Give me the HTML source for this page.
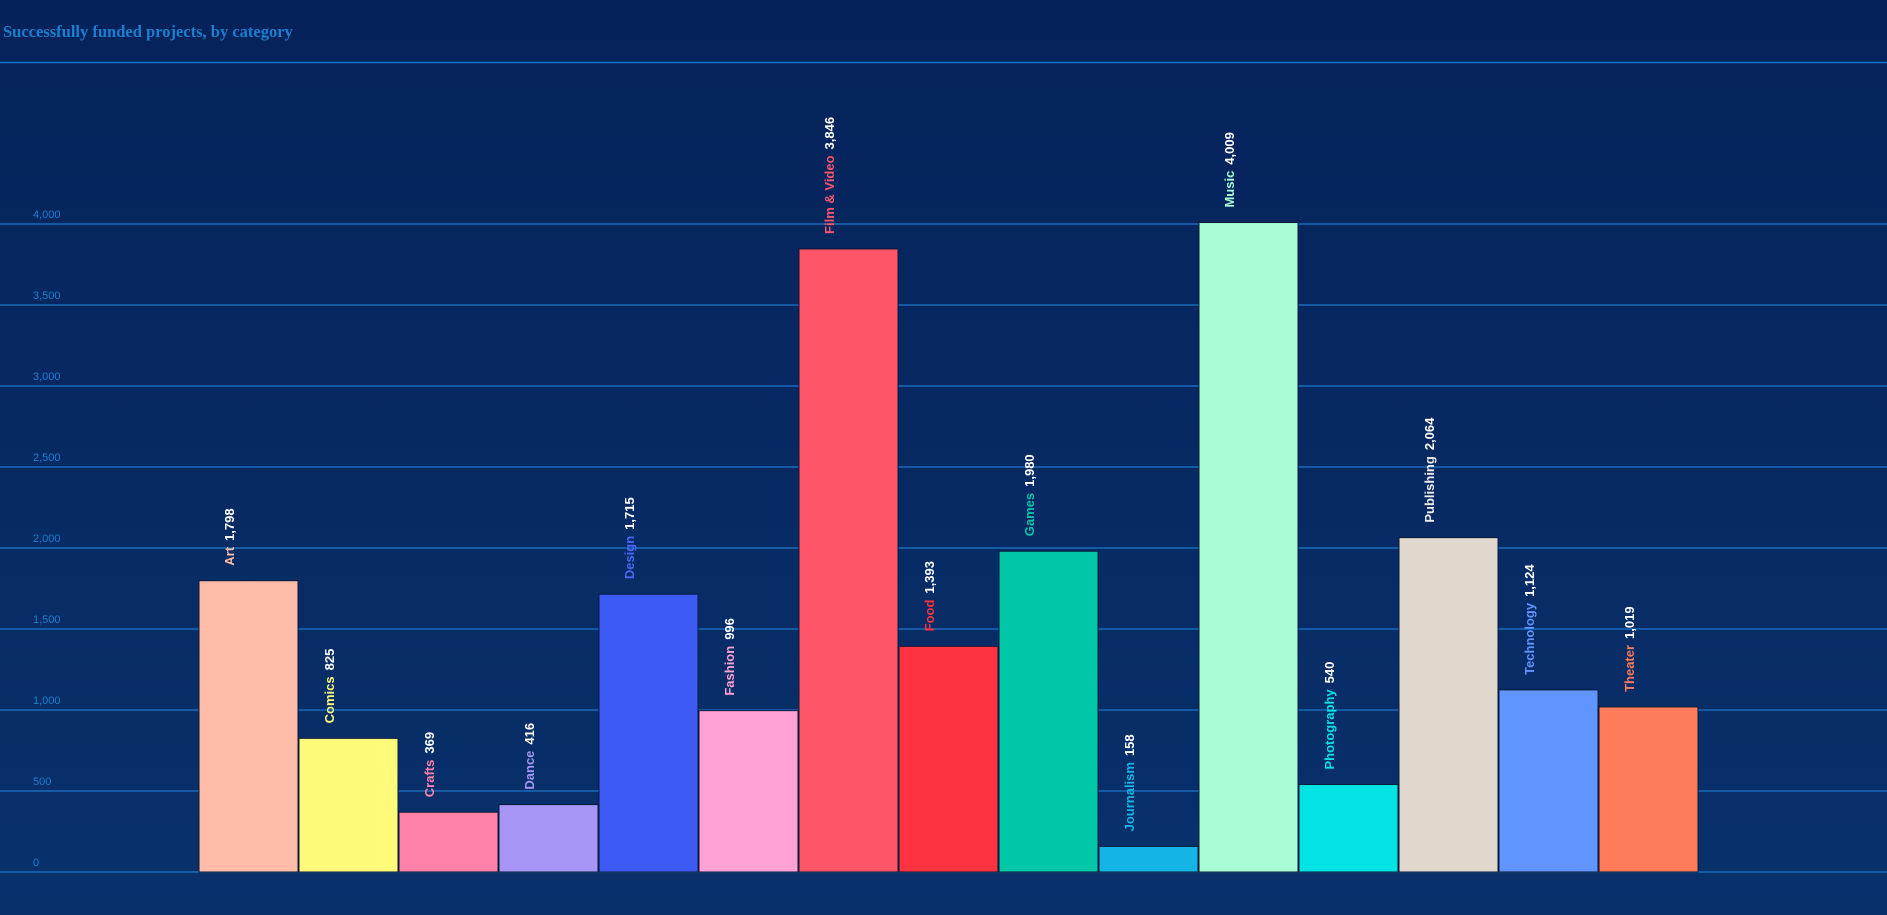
<!DOCTYPE html>
<html><head><meta charset="utf-8"><style>
html,body{margin:0;padding:0;width:1887px;height:915px;overflow:hidden;background:#062359}
</style></head><body>
<svg width="1887" height="915" xmlns="http://www.w3.org/2000/svg">
<defs><linearGradient id="bg" x1="0" y1="0" x2="0" y2="1">
<stop offset="0" stop-color="#06225a"/><stop offset="1" stop-color="#08316c"/></linearGradient></defs>
<rect width="1887" height="915" fill="url(#bg)"/>
<text x="3" y="37" font-family="'Liberation Serif',serif" font-weight="bold" font-size="16.5" fill="#1a7fd0">Successfully funded projects, by category</text>
<line x1="0" y1="62.5" x2="1887" y2="62.5" stroke="#1a72c4" stroke-width="1.5"/>
<g font-family="'Liberation Sans',sans-serif" font-size="11" fill="#1a7fd0" stroke="#1a6ab8" stroke-width="1.5">
<line x1="0" x2="1887" y1="224" y2="224"/><line x1="0" x2="1887" y1="305" y2="305"/><line x1="0" x2="1887" y1="386" y2="386"/><line x1="0" x2="1887" y1="467" y2="467"/><line x1="0" x2="1887" y1="548" y2="548"/><line x1="0" x2="1887" y1="629" y2="629"/><line x1="0" x2="1887" y1="710" y2="710"/><line x1="0" x2="1887" y1="791" y2="791"/><line x1="0" x2="1887" y1="872" y2="872"/>
<g stroke="none">
<text x="33" y="218">4,000</text><text x="33" y="299">3,500</text><text x="33" y="380">3,000</text><text x="33" y="461">2,500</text><text x="33" y="542">2,000</text><text x="33" y="623">1,500</text><text x="33" y="704">1,000</text><text x="33" y="785">500</text><text x="33" y="866">0</text>
</g></g>
<g id="bars" stroke="#0a1a3a" stroke-width="1"></g>
<g id="labels" font-family="'Liberation Sans',sans-serif" font-weight="bold" font-size="13"></g>
<script>
var d=[["Art",1798,"#ffbca8","#ffbca8"],["Comics",825,"#fffa7a","#fffa7a"],["Crafts",369,"#ff82aa","#ff82aa"],["Dance",416,"#a896f7","#a896f7"],["Design",1715,"#3e5af5","#4a66f8"],["Fashion",996,"#ffa1d5","#ffa1d5"],["Film & Video",3846,"#ff5569","#ff5569"],["Food",1393,"#ff3340","#ff3340"],["Games",1980,"#00c7a8","#00c7a8"],["Journalism",158,"#14b5e6","#14b5e6"],["Music",4009,"#a8fdd4","#a8fdd4"],["Photography",540,"#00e3e3","#00e3e3"],["Publishing",2064,"#e0d8cc","#f0ece6"],["Technology",1124,"#6095ff","#6095ff"],["Theater",1019,"#ff7b5a","#ff7b5a"]];
var ns="http://www.w3.org/2000/svg",B=document.getElementById("bars"),L=document.getElementById("labels");
d.forEach(function(r,i){var x=199+i*100,h=r[1]*0.162,top=872-h;
var e=document.createElementNS(ns,"rect");e.setAttribute("x",x);e.setAttribute("y",top);e.setAttribute("width",99);e.setAttribute("height",h);e.setAttribute("fill",r[2]);B.appendChild(e);
var t=document.createElementNS(ns,"text");var cx=x+35,cy=top-15;t.setAttribute("transform","translate("+cx+","+cy+") rotate(-90)");
var a=document.createElementNS(ns,"tspan");a.setAttribute("fill",r[3]);a.textContent=r[0];t.appendChild(a);
var b=document.createElementNS(ns,"tspan");b.setAttribute("fill","#ffffff");b.setAttribute("dx","6");b.textContent=r[1].toLocaleString("en-US");t.appendChild(b);
L.appendChild(t);});
</script>
</svg>
</body></html>
